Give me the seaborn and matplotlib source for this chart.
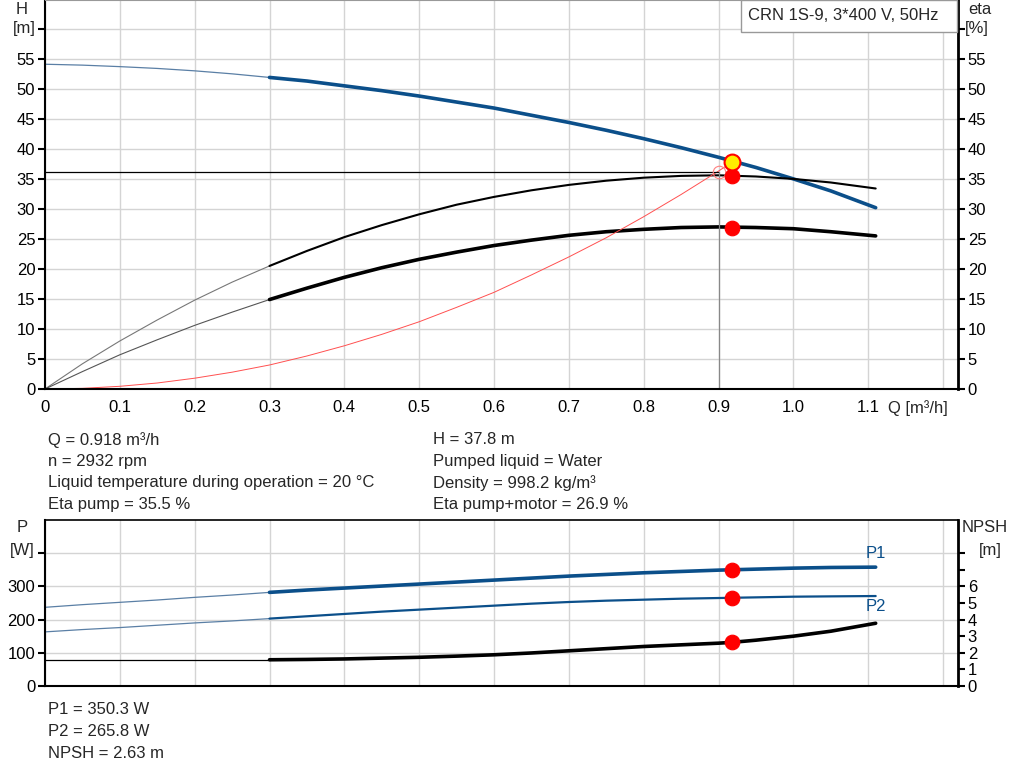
import matplotlib
matplotlib.use("Agg")
import matplotlib.pyplot as plt
import seaborn as sns
import numpy as np

# ---- data ----
q = [0.0, 0.05, 0.1, 0.15, 0.2, 0.25, 0.3, 0.35, 0.4, 0.45, 0.5, 0.55,
     0.6, 0.65, 0.7, 0.75, 0.8, 0.85, 0.9, 0.95, 1.0, 1.05, 1.11]
head = [54.1, 53.95, 53.7, 53.4, 53.0, 52.5, 51.9, 51.3, 50.5, 49.7, 48.8, 47.8,
        46.8, 45.6, 44.4, 43.1, 41.7, 40.2, 38.6, 36.9, 35.0, 33.0, 30.2]
eta_pump = [0.0, 4.2, 8.0, 11.5, 14.8, 17.8, 20.5, 23.0, 25.3, 27.3, 29.1, 30.7,
            32.0, 33.1, 34.0, 34.7, 35.2, 35.5, 35.6, 35.4, 35.0, 34.4, 33.4]
eta_total = [0.0, 2.9, 5.7, 8.2, 10.6, 12.8, 14.9, 16.8, 18.6, 20.2, 21.6, 22.8,
             23.9, 24.8, 25.6, 26.2, 26.6, 26.9, 27.0, 26.9, 26.7, 26.2, 25.5]
p1 = [237, 245, 252, 259, 267, 274, 282, 289, 295, 301, 307, 313,
      319, 325, 331, 336, 341, 345, 349, 352, 355, 357, 358]
p2 = [163, 170, 176, 183, 190, 196, 203, 210, 217, 224, 230, 236,
      242, 248, 253, 257, 260, 263, 265, 267, 269, 270, 271]

q_sys = [0.0, 0.05, 0.1, 0.15, 0.2, 0.25, 0.3, 0.35, 0.4, 0.45, 0.5, 0.55,
         0.6, 0.65, 0.7, 0.75, 0.8, 0.85, 0.9, 0.918]
h_sys = [0.0, 0.11, 0.45, 1.0, 1.8, 2.8, 4.0, 5.5, 7.2, 9.1, 11.2, 13.6,
         16.1, 19.0, 22.0, 25.2, 28.7, 32.4, 36.3, 37.8]

npsh_q = [0.0, 0.3, 0.35, 0.4, 0.45, 0.5, 0.55, 0.6, 0.65, 0.7, 0.75, 0.8,
          0.85, 0.9, 0.918, 0.95, 1.0, 1.05, 1.11]
npsh = [1.58, 1.58, 1.60, 1.63, 1.68, 1.73, 1.80, 1.88, 1.99, 2.12, 2.25, 2.38,
        2.48, 2.58, 2.63, 2.76, 3.0, 3.3, 3.78]

duty_q = 0.918
duty = {"H": 37.8, "eta_pump": 35.5, "eta_total": 26.9, "P1": 350.3, "P2": 265.8, "NPSH": 2.63}
req_q, req_h = 0.9, 36.2

info_left = ["Q = 0.918 m³/h", "n = 2932 rpm",
             "Liquid temperature during operation = 20 °C", "Eta pump = 35.5 %"]
info_right = ["H = 37.8 m", "Pumped liquid = Water",
              "Density = 998.2 kg/m³", "Eta pump+motor = 26.9 %"]
info_bottom = ["P1 = 350.3 W", "P2 = 265.8 W", "NPSH = 2.63 m"]
title_box = "CRN 1S-9, 3*400 V, 50Hz"

blue = "#0b4f8a"
thin_blue = "#5a7fa5"
grid_c = "#d4d4d4"
FS = 12

sns.set_style("white")
plt.rcParams["font.family"] = ["Liberation Sans", "DejaVu Sans"]
plt.rcParams["font.size"] = FS

W, H = 1024, 781
fig = plt.figure(figsize=(W / 100, H / 100), dpi=100)


def px_axes(left, top, right, bottom):
    return fig.add_axes([left / W, 1 - bottom / H, (right - left) / W, (bottom - top) / H])


def split(xs, ys, cut=0.3):
    xs = np.asarray(xs); ys = np.asarray(ys)
    a = xs <= cut + 1e-9
    b = xs >= cut - 1e-9
    return xs[a], ys[a], xs[b], ys[b]


def style_axes(ax, ax2, ylim, yticks, ylabels, ylim2, yticks2, ylabels2):
    ax.set_xlim(0, 1.22)
    ax.set_ylim(*ylim)
    ax.set_xticks(np.arange(0, 1.21, 0.1))
    ax.set_yticks(yticks)
    ax.set_yticklabels(ylabels)
    ax.grid(True, color=grid_c, linewidth=1.0)
    ax.set_axisbelow(True)
    ax.spines["top"].set_color("#999999")
    ax.spines["top"].set_linewidth(0.8)
    for s in ["left", "bottom"]:
        ax.spines[s].set_color("black")
        ax.spines[s].set_linewidth(1.5)
    ax.spines["right"].set_visible(False)
    ax.tick_params(axis="y", direction="out", length=5, width=1.5, colors="black", labelsize=FS, pad=2)
    ax.set_xlabel(""); ax.set_ylabel("")
    ax2.set_ylim(*ylim2)
    ax2.set_yticks(yticks2)
    ax2.set_yticklabels(ylabels2)
    for s in ["left", "top", "bottom"]:
        ax2.spines[s].set_visible(False)
    ax2.spines["right"].set_color("black")
    ax2.spines["right"].set_linewidth(2)
    ax2.tick_params(axis="y", direction="out", length=5, width=1.5, colors="black", labelsize=FS, pad=2)
    ax2.set_ylabel("")


# ---------------- top panel ----------------
ax = px_axes(45, 0, 958, 389)
ax2 = ax.twinx()

x0, y0, x1, y1 = split(q, head)
sns.lineplot(x=x0, y=y0, ax=ax, color=thin_blue, linewidth=0.9)
sns.lineplot(x=x1, y=y1, ax=ax, color=blue, linewidth=2.6)

x0, y0, x1, y1 = split(q, eta_pump)
sns.lineplot(x=x0, y=y0, ax=ax, color="#777777", linewidth=0.8)
sns.lineplot(x=x1, y=y1, ax=ax, color="black", linewidth=1.5)

x0, y0, x1, y1 = split(q, eta_total)
sns.lineplot(x=x0, y=y0, ax=ax, color="#555555", linewidth=0.8)
sns.lineplot(x=x1, y=y1, ax=ax, color="black", linewidth=2.6)

sns.lineplot(x=q_sys, y=h_sys, ax=ax, color="#ff5050", linewidth=0.7)

ax.plot([0, req_q], [req_h, req_h], color="black", linewidth=0.9)
ax.plot([req_q, req_q], [0, req_h], color="#888888", linewidth=0.9)
ax.plot([req_q], [req_h], marker="o", markersize=9, markerfacecolor="none",
        markeredgecolor="#ff8080", markeredgewidth=0.8)

sns.scatterplot(x=[duty_q, duty_q], y=[duty["eta_pump"], duty["eta_total"]], ax=ax,
                color="red", s=110, edgecolor="red", zorder=5)
sns.scatterplot(x=[duty_q], y=[duty["H"]], ax=ax, color="#ffee00", s=130,
                edgecolor="red", linewidth=1.5, zorder=6)

ax.tick_params(axis="x", direction="out", length=5, width=1.5, colors="black", labelsize=FS, pad=3)
top_ticks = list(range(0, 61, 5))
top_labels = [str(t) for t in top_ticks[:-1]] + [""]
style_axes(ax, ax2, (0, 64.8), top_ticks, top_labels, (0, 64.8), top_ticks, top_labels)
ax.set_xticklabels(["0"] + ["%.1f" % v for v in np.arange(0.1, 1.15, 0.1)] + [""])

fig.text(918 / W, 1 - 408 / H, "Q [m³/h]", ha="center", va="center", fontsize=FS)
fig.text(22 / W, 1 - 9 / H, "H", ha="center", va="center", fontsize=FS)
fig.text(24 / W, 1 - 29 / H, "[m]", ha="center", va="center", fontsize=FS)
fig.text(980 / W, 1 - 9 / H, "eta", ha="center", va="center", fontsize=FS)
fig.text(977 / W, 1 - 29 / H, "[%]", ha="center", va="center", fontsize=FS)

fig.patches.append(plt.Rectangle((741 / W, 1 - 32 / H), (957 - 741) / W, 32 / H,
                                 transform=fig.transFigure, facecolor="white",
                                 edgecolor="#999999", linewidth=1.0, zorder=10))
fig.text(748 / W, 1 - 15 / H, title_box, ha="left", va="center", fontsize=FS, zorder=11)

for i, t in enumerate(info_left):
    fig.text(48 / W, 1 - (440 + i * 21.5) / H, t, ha="left", va="center", fontsize=FS)
for i, t in enumerate(info_right):
    fig.text(433 / W, 1 - (440 + i * 21.5) / H, t, ha="left", va="center", fontsize=FS)

# ---------------- bottom panel ----------------
bx = px_axes(45, 520, 958, 686)
bx2 = bx.twinx()

x0, y0, x1, y1 = split(q, p1)
sns.lineplot(x=x0, y=y0, ax=bx, color=thin_blue, linewidth=0.9)
sns.lineplot(x=x1, y=y1, ax=bx, color=blue, linewidth=2.6)

x0, y0, x1, y1 = split(q, p2)
sns.lineplot(x=x0, y=y0, ax=bx, color=thin_blue, linewidth=0.9)
sns.lineplot(x=x1, y=y1, ax=bx, color=blue, linewidth=1.6)

x0, y0, x1, y1 = split(npsh_q, npsh)
sns.lineplot(x=x0, y=y0, ax=bx2, color="black", linewidth=0.9)
sns.lineplot(x=x1, y=y1, ax=bx2, color="black", linewidth=2.6)

sns.scatterplot(x=[duty_q, duty_q], y=[duty["P1"], duty["P2"]], ax=bx,
                color="red", s=110, edgecolor="red", zorder=5)
sns.scatterplot(x=[duty_q], y=[duty["NPSH"]], ax=bx2,
                color="red", s=110, edgecolor="red", zorder=5)

bot_ticks = list(range(0, 401, 100))
bot_labels = [str(t) for t in bot_ticks[:-1]] + [""]
n_ticks = list(range(0, 9))
n_labels = [str(t) for t in n_ticks[:-2]] + ["", ""]
style_axes(bx, bx2, (0, 500), bot_ticks, bot_labels, (0, 10), n_ticks, n_labels)
bx.set_xticklabels([])
bx.tick_params(axis="x", length=0)
bx.spines["top"].set_color("black")
bx.spines["top"].set_linewidth(1.2)

bx.text(1.11, 375, "P1", color=blue, ha="center", va="bottom", fontsize=FS)
bx.text(1.11, 262, "P2", color=blue, ha="center", va="top", fontsize=FS)

fig.text(22 / W, 1 - 528 / H, "P", ha="center", va="center", fontsize=FS)
fig.text(22 / W, 1 - 550 / H, "[W]", ha="center", va="center", fontsize=FS)
fig.text(985 / W, 1 - 528 / H, "NPSH", ha="center", va="center", fontsize=FS)
fig.text(990 / W, 1 - 550 / H, "[m]", ha="center", va="center", fontsize=FS)

for i, t in enumerate(info_bottom):
    fig.text(48 / W, 1 - (710 + i * 21.5) / H, t, ha="left", va="center", fontsize=FS)

fig.savefig("out.png", dpi=100)
